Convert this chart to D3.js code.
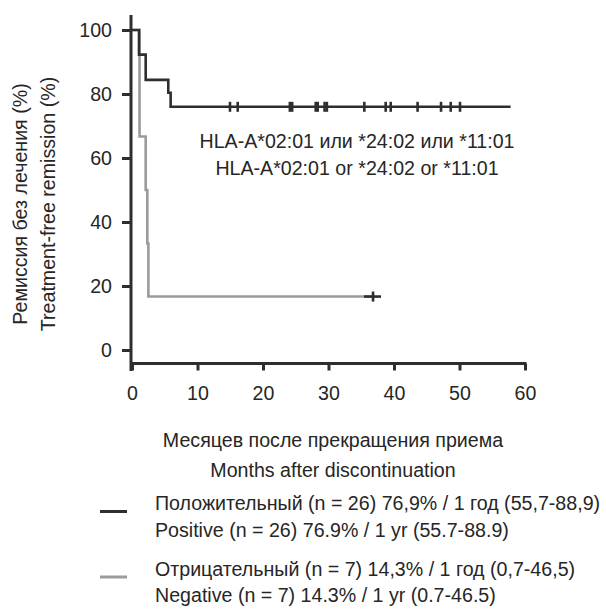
<!DOCTYPE html>
<html>
<head>
<meta charset="utf-8">
<script src="https://cdn.jsdelivr.net/npm/d3@7"></script>
<style>
    body { margin: 0; background: #fff; }
    svg text { font-family: "Liberation Sans", Arial, sans-serif; fill: #262626; }
</style>
</head>
<body>
<svg id="chart" width="606" height="610"></svg>
<script>
'use strict';

// tick labels
const xTicks = [0, 10, 20, 30, 40, 50, 60];
const yTicks = [0, 20, 40, 60, 80, 100];

// positive group: step times (months) and survival (%)
const posTimes = [0, 1.07, 2.09, 5.54, 5.9, 57.8];
const posSurv = [100, 92.3, 84.4, 80.4, 76.0, 76.0];
const posCensor = [14.96, 16.14, 24.1, 24.45, 28.05, 28.35, 29.4, 29.75, 35.47, 38.73, 39.5, 43.6, 47.18, 48.66, 50.08];

// negative group
const negTimes = [0, 1.15, 2.09, 2.34, 2.5, 36.8];
const negSurv = [100, 66.7, 50, 33.3, 16.7, 16.7];
const negCensor = [36.8];

const annotLines = ['HLA-A*02:01 или *24:02 или *11:01', 'HLA-A*02:01 or *24:02 or *11:01'];
const xTitle = ['Месяцев после прекращения приема', 'Months after discontinuation'];
const yTitle = ['Ремиссия без лечения (%)', 'Treatment-free remission (%)'];
const legendLines = [
    ['Положительный (n = 26) 76,9% / 1 год (55,7-88,9)', 'Positive (n = 26) 76.9% / 1 yr (55.7-88.9)'],
    ['Отрицательный (n = 7) 14,3% / 1 год (0,7-46,5)', 'Negative (n = 7) 14.3% / 1 yr (0.7-46.5)']
];

const dark = '#2e2e2e';
const grey = '#9b9b9b';
const fontSize = '21px';
// the source font is a little narrower than Liberation Sans
const squeezeK = 0.935;

const svg = d3.select('#chart');

const x = d3.scaleLinear().domain([0, 60]).range([132, 525]);
const y = d3.scaleLinear().domain([0, 100]).range([350, 30]);

const axisX = 131;
const axisY = 363.5;

// squeeze text horizontally around its anchor x
function squeeze(sel) {
    sel.each(function () {
        const t = d3.select(this);
        const ax = +(t.attr('x') || 0);
        const prev = t.attr('transform') || '';
        t.attr('transform', `${prev} translate(${ax * (1 - squeezeK)},0) scale(${squeezeK},1)`);
    });
}

// y axis
const yAxis = svg.append('g')
    .attr('transform', `translate(${axisX},0)`)
    .call(d3.axisLeft(y).tickValues(yTicks).tickSize(9).tickPadding(10).tickSizeOuter(0));
yAxis.select('.domain').remove();
yAxis.append('line')
    .attr('x1', 0).attr('x2', 0)
    .attr('y1', 15).attr('y2', 371)
    .attr('stroke', dark)
    .attr('stroke-width', 3);

// x axis
const xAxis = svg.append('g')
    .attr('transform', `translate(0,${axisY})`)
    .call(d3.axisBottom(x).tickValues(xTicks).tickSize(7).tickPadding(15).tickSizeOuter(0));
xAxis.select('.domain').remove();
xAxis.append('line')
    .attr('x1', axisX).attr('x2', x(60) + 1.5)
    .attr('y1', 0).attr('y2', 0)
    .attr('stroke', dark)
    .attr('stroke-width', 3);

svg.selectAll('.tick line').attr('stroke', dark).attr('stroke-width', 3);
svg.selectAll('.tick text')
    .style('font-size', fontSize)
    .attr('fill', '#262626')
    .call(squeeze);

function drawCurve(times, surv, color) {
    const pts = times.map((t, i) => [t, surv[i]]);
    const line = d3.line()
        .x((d) => x(d[0]))
        .y((d) => y(d[1]))
        .curve(d3.curveStepAfter);
    svg.append('path')
        .datum(pts)
        .attr('d', line)
        .attr('fill', 'none')
        .attr('stroke', color)
        .attr('stroke-width', 2.6);
}

function survAt(times, surv, t) {
    let v = surv[0];
    for (let i = 0; i < times.length; i++) {
        if (times[i] <= t) v = surv[i];
    }
    return v;
}

drawCurve(negTimes, negSurv, grey);
drawCurve(posTimes, posSurv, dark);

// censor marks on the positive curve: short vertical ticks
svg.selectAll('line.pos-censor')
    .data(posCensor)
    .enter().append('line')
    .attr('class', 'pos-censor')
    .attr('x1', (d) => x(d)).attr('x2', (d) => x(d))
    .attr('y1', (d) => y(survAt(posTimes, posSurv, d)) - 5)
    .attr('y2', (d) => y(survAt(posTimes, posSurv, d)) + 5)
    .attr('stroke', dark)
    .attr('stroke-width', 2.6);

// censor on the negative curve is drawn as a dark plus
const plus = svg.selectAll('g.neg-censor')
    .data(negCensor)
    .enter().append('g')
    .attr('class', 'neg-censor')
    .attr('transform', (d) => `translate(${x(d)},${y(survAt(negTimes, negSurv, d))})`);
plus.append('line')
    .attr('x1', -9).attr('x2', 8).attr('y1', 0).attr('y2', 0)
    .attr('stroke', dark).attr('stroke-width', 2.6);
plus.append('line')
    .attr('x1', 0).attr('x2', 0).attr('y1', -5).attr('y2', 5)
    .attr('stroke', dark).attr('stroke-width', 2.6);

// annotation
svg.append('g').selectAll('text')
    .data(annotLines)
    .enter().append('text')
    .attr('x', 357)
    .attr('y', (d, i) => 148 + i * 27)
    .attr('text-anchor', 'middle')
    .style('font-size', fontSize)
    .text((d) => d)
    .call(squeeze);

// axis titles
svg.append('g').selectAll('text')
    .data(xTitle)
    .enter().append('text')
    .attr('x', 333)
    .attr('y', (d, i) => 447 + i * 30)
    .attr('text-anchor', 'middle')
    .style('font-size', fontSize)
    .text((d) => d)
    .call(squeeze);

svg.append('g').selectAll('text')
    .data(yTitle)
    .enter().append('text')
    .attr('transform', (d, i) => `translate(${27 + i * 28.4},204) rotate(-90)`)
    .attr('text-anchor', 'middle')
    .style('font-size', fontSize)
    .text((d) => d)
    .call(squeeze);

// legend
const legendColors = [dark, grey];
const legendTop = [510.5, 576];
legendLines.forEach((pair, k) => {
    svg.append('line')
        .attr('x1', 100).attr('x2', 127)
        .attr('y1', legendTop[k] + 1).attr('y2', legendTop[k] + 1)
        .attr('stroke', legendColors[k])
        .attr('stroke-width', 3);
    pair.forEach((txt, i) => {
        svg.append('text')
            .attr('x', 155)
            .attr('y', legendTop[k] + i * 26.5)
            .style('font-size', fontSize)
            .text(txt)
            .call(squeeze);
    });
});
</script>
</body>
</html>
